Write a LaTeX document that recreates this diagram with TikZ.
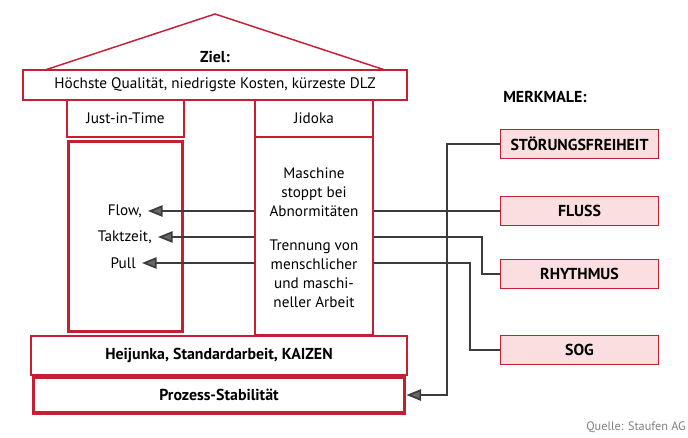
\documentclass[tikz,border=0pt]{standalone}
\usepackage{fontspec}
\setmainfont{PT Sans}
\usepackage{tikz}
\usetikzlibrary{positioning,arrows.meta}
\definecolor{housered}{RGB}{196,32,50}
\definecolor{boxpink}{RGB}{250,222,224}
\definecolor{linegray}{RGB}{60,60,60}
\definecolor{tipgray}{RGB}{105,105,105}
\newcommand\housefont{\fontsize{11.4}{14.2}\selectfont}
\newcommand\housebold{\fontsize{11.9}{14.2}\selectfont\bfseries}

\begin{document}
\begin{tikzpicture}[
x=0.75pt, y=-0.75pt,
frame/.style={draw=housered, line width=1.1pt, inner sep=0pt, font=\housefont},
heavy/.style={frame, line width=2.6pt},
strong/.style={font=\housebold},
merkmal/.style={frame, fill=boxpink, minimum width=118.5pt,
	minimum height=21.75pt, font=\housebold},
txt/.style={font=\housefont, align=center},
side/.style={font=\housefont, anchor=east, inner sep=0pt, inner xsep=4.5pt},
conn/.style={draw=linegray, line width=1.3pt},
arr/.style={conn, -{Triangle[length=11pt,width=8.5pt,fill=tipgray]}}
]
\useasboundingbox (0,0) rectangle (688,438);
% roof and goal
\node[frame, minimum width=288pt, minimum height=22.5pt] (goal) at (215,85)
	{Höchste Qualität, niedrigste Kosten, kürzeste DLZ};
\draw[frame] (45,70) -- (215,14) -- (385,70);
\node[strong] (ziel) at (215,57) {Ziel:};
% pillars
\node[frame, minimum width=87.75pt, minimum height=27.75pt] (jithead) at (125.5,118.5) {Just-in-Time};
\node[frame, minimum width=88.5pt, minimum height=27.75pt] (jidhead) at (314,118.5) {Jidoka};
\node[heavy, minimum width=85.5pt, minimum height=142.5pt] (jitcol) at (125.5,236.5) {};
\node[frame, minimum width=88.5pt, minimum height=148.5pt] (jidcol) at (314,236) {};
\node[txt] (stopp) at (314,192) {Maschine\\stoppt bei\\Abnormitäten};
\node[txt] (trenn) at (314,274) {Trennung von\\menschlicher\\und maschi-\\neller Arbeit};
\node[side] (flow) at (148,211) {Flow,};
\node[side] (takt) at (158,237) {Taktzeit,};
\node[side] (pull) at (142,263) {Pull};
% foundation
\node[frame, strong, minimum width=282pt, minimum height=29.25pt] (base) at (219,355.5)
	{Heijunka, Standardarbeit, KAIZEN};
\node[heavy, strong, minimum width=278.5pt, minimum height=27pt] (stab) at (219,395)
	{Prozess-Stabilität};
% merkmale
\node[strong, anchor=west, inner sep=0pt] (mhead) at (503,97) {MERKMALE:};
\node[merkmal] (stoer) at (579.5,144) {STÖRUNGSFREIHEIT};
\node[merkmal] (fluss) at (579.5,211) {FLUSS};
\node[merkmal] (rhythm) at (579.5,274) {RHYTHMUS};
\node[merkmal] (sog) at (579.5,350) {SOG};
\node[anchor=east, inner sep=0pt, text=gray, font=\fontsize{9.2}{11}\selectfont] (src) at (686,427)
	{Quelle: Staufen AG};
% connectors
\draw[arr] (jidcol.west |- flow) -- (flow.east);
\draw[arr] (jidcol.west |- takt) -- (takt.east);
\draw[arr] (jidcol.west |- pull) -- (pull.east);
\draw[conn] (fluss.west) -- (fluss.west -| jidcol.east);
\draw[conn] (rhythm.west) -- ++(-18,0) |- (takt -| jidcol.east);
\draw[conn] (sog.west) -- ++(-30,0) |- (pull -| jidcol.east);
\draw[arr] (stoer.west) -- ++(-53,0) |- (stab.east);
\end{tikzpicture}
\end{document}
